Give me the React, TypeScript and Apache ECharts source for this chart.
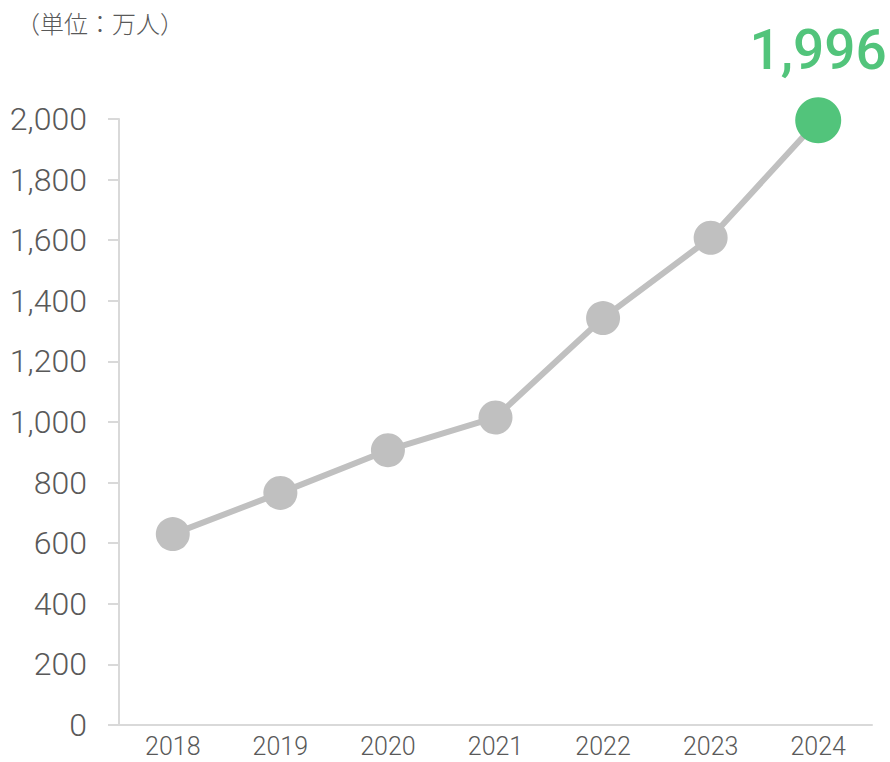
import React, { useEffect, useRef } from "react";
import * as echarts from "echarts";

const years = ["2018", "2019", "2020", "2021", "2022", "2023", "2024"];
const users = [630, 766, 907, 1015, 1343, 1608, 1996];
const unitLabel = "（単位：万人）";

const GRAY = "#c0c0c0";
const GREEN = "#52c47b";
const TEXT = "#595959";
const AXIS = "#d9d9d9";

export default function App() {
  const ref = useRef<HTMLDivElement>(null);
  useEffect(() => {
    document.body.style.margin = "0";
    if (!ref.current) return;
    const chart = echarts.init(ref.current, null, { renderer: "svg" });
    const last = users.length - 1;
    chart.setOption({
      animation: false,
      backgroundColor: "#ffffff",
      graphic: [
        {
          type: "text",
          left: 16,
          top: 10,
          style: {
            text: unitLabel,
            fill: TEXT,
            font: "300 24px 'Noto Sans CJK JP'",
          },
        },
      ],
      grid: { left: 119, right: 18, top: 119, bottom: 37, containLabel: false },
      xAxis: {
        type: "category",
        data: years,
        boundaryGap: true,
        axisLine: { lineStyle: { color: AXIS, width: 2 } },
        axisTick: { show: false },
        axisLabel: {
          color: TEXT,
          fontFamily: "Roboto",
          fontWeight: 300,
          fontSize: 25,
          margin: 9,
        },
      },
      yAxis: {
        type: "value",
        min: 0,
        max: 2000,
        interval: 200,
        splitLine: { show: false },
        axisLine: { show: true, lineStyle: { color: AXIS, width: 2 } },
        axisTick: { show: true, length: 11, lineStyle: { color: AXIS, width: 2 } },
        axisLabel: {
          color: TEXT,
          fontFamily: "Roboto",
          fontWeight: 300,
          fontSize: 32,
          margin: 32,
          formatter: (v: number) => v.toLocaleString("en-US"),
        },
      },
      series: [
        {
          type: "line",
          data: users.map((v, i) =>
            i === last
              ? {
                  value: v,
                  symbolSize: 46,
                  itemStyle: { color: GREEN },
                  label: {
                    show: true,
                    position: "top",
                    distance: 20,
                    color: GREEN,
                    fontFamily: "Roboto",
                    fontWeight: 500,
                    fontSize: 55,
                    formatter: (p: any) => Number(p.value).toLocaleString("en-US"),
                  },
                }
              : v
          ),
          symbol: "circle",
          symbolSize: 34,
          lineStyle: { color: GRAY, width: 6 },
          itemStyle: { color: GRAY },
          z: 2,
        },
      ],
    });
    return () => chart.dispose();
  }, []);
  return <div ref={ref} style={{ width: 890, height: 762 }} />;
}
